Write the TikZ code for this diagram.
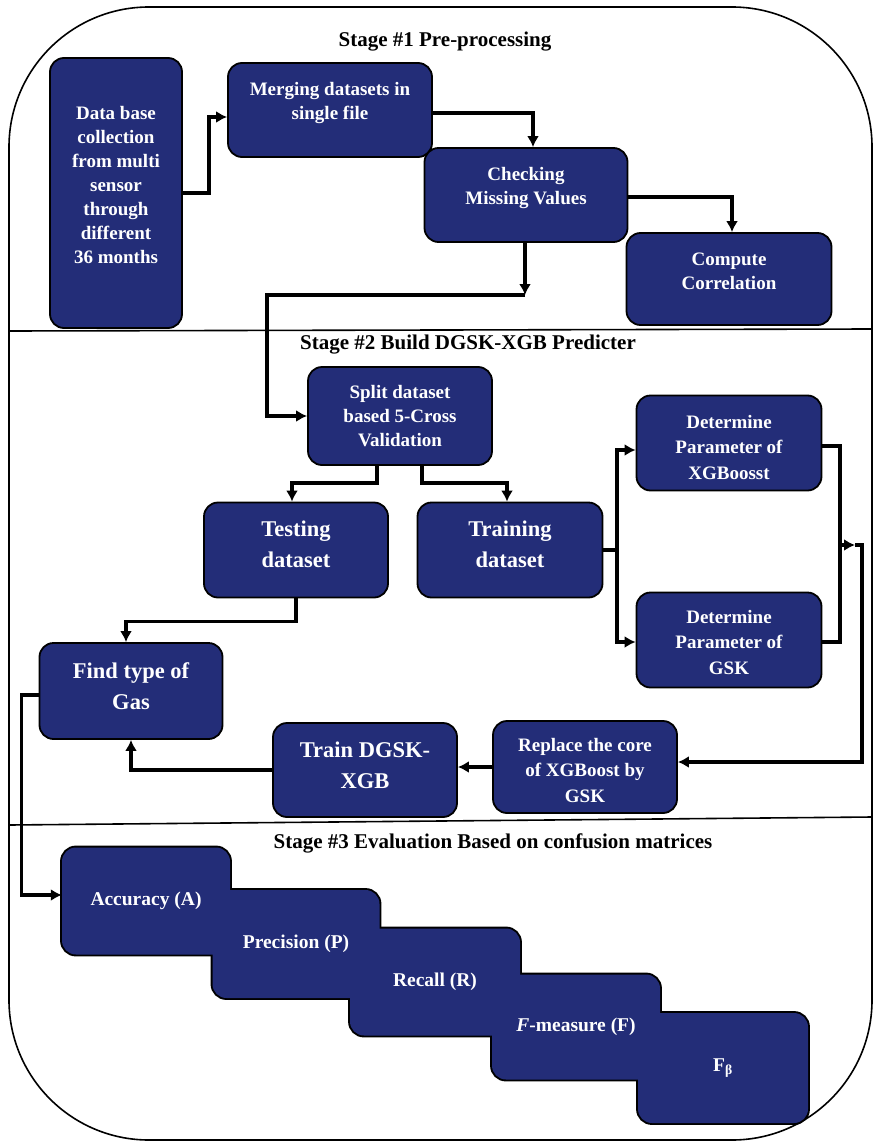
\documentclass[tikz,border=0pt]{standalone}
\usepackage{fontspec}
\setmainfont{Liberation Serif}
\usetikzlibrary{arrows.meta,backgrounds}
\definecolor{BoxNavy}{HTML}{232D78}
% invisible struts to nudge text inside fixed-size boxes
\newcommand{\padbelow}[1]{\rule[-#1]{0pt}{#1}}
\newcommand{\padabove}[1]{\rule{0pt}{#1}}

\begin{document}
\begin{tikzpicture}[
    x=1pt, y=-1pt,
    dims/.style 2 args={minimum width=#1pt, minimum height=#2pt},
    box/.style={draw=black, line width=1.8pt, fill=BoxNavy, rounded corners=14pt,
      text=white, align=center, inner sep=2pt, font=\bfseries\fontsize{19}{24}\selectfont},
    widebox/.style={box, font=\bfseries\fontsize{19}{25.5}\selectfont},
    bigbox/.style={box, font=\bfseries\fontsize{22.5}{31}\selectfont},
    metric/.style={fill=BoxNavy, rounded corners=14pt, text=white, inner sep=0pt,
      font=\bfseries\fontsize{19.5}{22}\selectfont},
    metricedge/.style={draw=black, line width=3.4pt, rounded corners=14pt},
    title/.style={font=\bfseries\fontsize{21}{24}\selectfont},
    arrow/.style={-{Latex[length=11pt,width=12pt]}, line width=3.4pt, draw=black},
    link/.style={line width=3.4pt, draw=black}
  ]
    \useasboundingbox (0,0) rectangle (875,1145);
    % frame and stage dividers
    \draw[line width=1.6pt, rounded corners=140pt] (9,7) rectangle (872,1140);
    \draw[line width=1.6pt] (9,331) -- (872,329);
    \draw[line width=1.6pt] (9,825) -- (872,817);

    \node[title] (stage1) at (445,42) {Stage \#1 Pre-processing};
    \node[title] (stage2) at (468,345) {Stage \#2 Build DGSK-XGB Predicter};
    \node[title] (stage3) at (493,843) {Stage \#3 Evaluation Based on confusion matrices};

    % stage 1
    \node[box, dims={132}{270}] (data) at (116,193)
      {Data base\\collection\\from multi\\sensor\\through\\different\\36 months\padbelow{16pt}};
    \node[box, dims={204}{94}] (merge) at (330,110) {Merging datasets in\\single file\padbelow{18pt}};
    \node[box, dims={203}{94}] (missing) at (526,195) {Checking\\Missing Values\padbelow{18pt}};
    \node[box, dims={205}{92}] (corr) at (729,279) {Compute\\Correlation\padbelow{16pt}};

    % stage 2
    \node[box, dims={184}{98}] (split) at (400,416) {Split dataset\\based 5-Cross\\Validation};
    \node[bigbox, dims={184}{95}] (testing) at (296,550) {Testing\\dataset\padbelow{12pt}};
    \node[bigbox, dims={185}{95}] (training) at (510,550) {Training\\dataset\padbelow{12pt}};
    \node[widebox, dims={185}{95}] (xgb) at (729,443) {\padabove{22pt}Determine\\Parameter of\\XGBoosst};
    \node[widebox, dims={185}{95}] (gsk) at (729,640) {\padabove{18pt}Determine\\Parameter of\\GSK};
    \node[bigbox, dims={183}{96}] (findgas) at (131,691) {Find type of\\Gas\padbelow{10pt}};
    \node[bigbox, dims={184}{94}] (train) at (365,770) {Train DGSK-\\XGB\padbelow{10pt}};
    \node[widebox, dims={184}{92}] (replace) at (585,767) {\padabove{20pt}Replace the core\\of XGBoost by\\GSK};

    % stage 3
    \node[metric, dims={168}{107}] (acc) at (146,901) {Accuracy (A)};
    \node[metric, dims={167}{108}] (prec) at (296,944) {Precision (P)};
    \node[metric, dims={170}{107}] (recall) at (435,982) {Recall (R)};
    \node[metric, dims={168}{105}] (fmeas) at (576,1027) {\textit{F}-measure (F)};
    \node[metric, dims={170}{110}] (fbeta) at (723,1068) {F\textsubscript{β}};
    \begin{scope}[on background layer]
      \fill[white] (0,0) rectangle (875,1145);
      \foreach \m in {acc,prec,recall,fmeas,fbeta}
        \draw[metricedge] (\m.south west) rectangle (\m.north east);
    \end{scope}

    % connectors
    \coordinate (drop) at (525,295);
    \coordinate (turn) at (267,295);
    \coordinate (fork) at (617,550);
    \coordinate (join) at (840,545);
    \coordinate (jointip) at (855,545);
    \coordinate (riser) at (862,545);
    \draw[arrow] (data.east) -- ++(26,0) |- ([yshift=-7pt]merge.west);
    \draw[arrow] ([yshift=-3pt]merge.east) -| ([xshift=7pt]missing.north);
    \draw[arrow] ([yshift=-2pt]missing.east) -| ([xshift=3pt]corr.north);
    \draw[arrow] (missing.south -| drop) -- (drop);
    \draw[arrow] (drop) -- (turn) |- (split.west);
    \draw[arrow] ([xshift=-23pt]split.south) -- ++(0,17) -| ([xshift=-4pt]testing.north);
    \draw[arrow] ([xshift=22pt]split.south) -- ++(0,17) -| ([xshift=-3pt]training.north);
    \draw[link] (training.east) -- (fork);
    \draw[arrow] (fork) |- ([yshift=-7pt]xgb.west);
    \draw[arrow] (fork) |- ([yshift=-2pt]gsk.west);
    \draw[link] ([yshift=-3pt]xgb.east) -| (join);
    \draw[link] ([yshift=-2pt]gsk.east) -| (join);
    \draw[arrow] (join) -- (jointip);
    \draw[arrow] (jointip) -- (riser) |- ([yshift=5pt]replace.east);
    \draw[arrow] (replace.west) -- (replace.west -| train.east);
    \draw[arrow] (train.west) -| (findgas.south);
    \draw[arrow] (testing.south) -- ++(0,23) -| ([xshift=-5pt]findgas.north);
    \draw[arrow] ([yshift=-4pt]findgas.west) -- ++(-17,0) |- ([yshift=6pt]acc.west);
  \end{tikzpicture}
\end{document}
